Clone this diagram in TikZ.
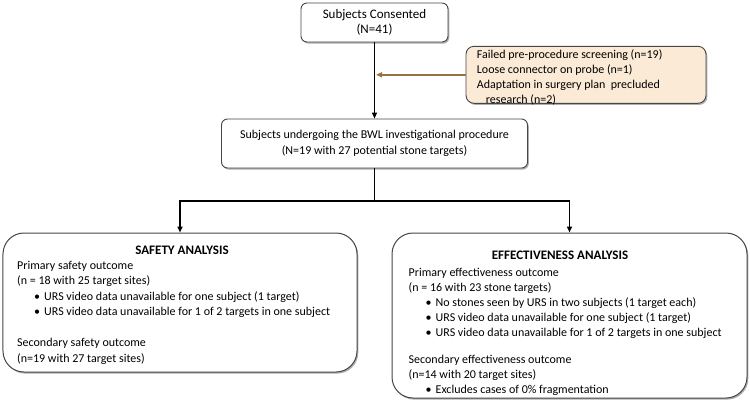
\documentclass[tikz,border=0pt]{standalone}
\usepackage{fontspec}
\setmainfont{Carlito}
\usetikzlibrary{arrows.meta,shadows}
\definecolor{tanfill}{RGB}{251,235,214}
\definecolor{tanarrow}{RGB}{150,116,66}
\definecolor{boxline}{RGB}{70,70,70}
\newcommand\bul{\makebox[27bp][l]{\hspace*{17bp}\textbullet}}
\begin{document}
\begin{tikzpicture}[x=1bp,y=-1bp,
  shad/.style={drop shadow={shadow xshift=1.3bp,shadow yshift=-1.6bp,opacity=0.45,fill=black!70}},
  box/.style={draw=boxline,line width=0.9bp,fill=white,rounded corners=6bp,shad,inner sep=0pt,align=center,
    font=\fontsize{13bp}{15.5bp}\selectfont},
  bigbox/.style={draw=boxline,line width=1bp,fill=white,rounded corners=21bp,shad,inner sep=0pt},
  tanbox/.style={draw=boxline,line width=0.9bp,fill=tanfill,rounded corners=8bp,shad,inner sep=0pt},
  hdr/.style={inner sep=0pt,font=\fontsize{13bp}{15.5bp}\selectfont\bfseries},
  body/.style={inner sep=0pt,anchor=north west,align=left},
  conn/.style={line width=1.6bp,draw=black},
  tip/.style={-{Triangle[length=6bp,width=5bp]}},
  tconn/.style={line width=1.6bp,draw=tanarrow,-{Triangle[length=6bp,width=5bp]}}
]
\useasboundingbox (0,0) rectangle (750,414);

% top boxes
\node[box,minimum width=147bp,minimum height=39bp] (cons) at (374.5,22.5) {Subjects Consented\\(N=41)};
\node[tanbox,minimum width=240bp,minimum height=57bp] (excl) at (586,74.8) {};
\node[body,font=\fontsize{12bp}{15bp}\selectfont] (excltxt) at (476.7,47.8)
  {\strut Failed pre-procedure screening (n=19)\\Loose connector on probe (n=1)\\Adaptation in surgery plan\ \ precluded\\\hspace*{9bp}research (n=2)};
\node[box,minimum width=306bp,minimum height=49bp,font=\fontsize{12bp}{16bp}\selectfont] (subj) at (374.5,143.5)
  {Subjects undergoing the BWL investigational procedure\\(N=19 with 27 potential stone targets)};

% analysis boxes
\node[bigbox,minimum width=354bp,minimum height=139bp] (safety) at (180,302.5) {};
\node[bigbox,minimum width=355bp,minimum height=165bp] (eff) at (569.5,315.5) {};

\node[hdr] (sh) at (182,250.5) {SAFETY ANALYSIS};
\node[body,font=\fontsize{12bp}{15.5bp}\selectfont] (stxt) at (17,258)
  {\strut Primary safety outcome\\
   (n = 18 with 25 target sites)\\
   \bul URS video data unavailable for one subject (1 target)\\
   \bul URS video data unavailable for 1 of 2 targets in one subject\\[15.5bp]
   Secondary safety outcome\\
   (n=19 with 27 target sites)};

\node[hdr] (eh) at (560,255.5) {EFFECTIVENESS ANALYSIS};
\node[body,font=\fontsize{12bp}{15bp}\selectfont] (etxt) at (408.5,265.5)
  {\strut Primary effectiveness outcome\\
   (n = 16 with 23 stone targets)\\
   \bul No stones seen by URS in two subjects (1 target each)\\
   \bul URS video data unavailable for one subject (1 target)\\
   \bul URS video data unavailable for 1 of 2 targets in one subject\\[12bp]
   Secondary effectiveness outcome\\
   (n=14 with 20 target sites)\\
   \bul Excludes cases of 0\% fragmentation};

% connectors
\coordinate (hit) at (376,74.8);
\coordinate (split) at (374.5,201);
\draw[conn,tip] (cons.south) -- (subj.north);
\draw[tconn] (excl.west) -- (hit);
\draw[conn] (subj.south) -- (split);
\draw[conn,tip] (split) -| (safety.north);
\draw[conn,tip] (split) -| (eff.north);
\end{tikzpicture}
\end{document}
